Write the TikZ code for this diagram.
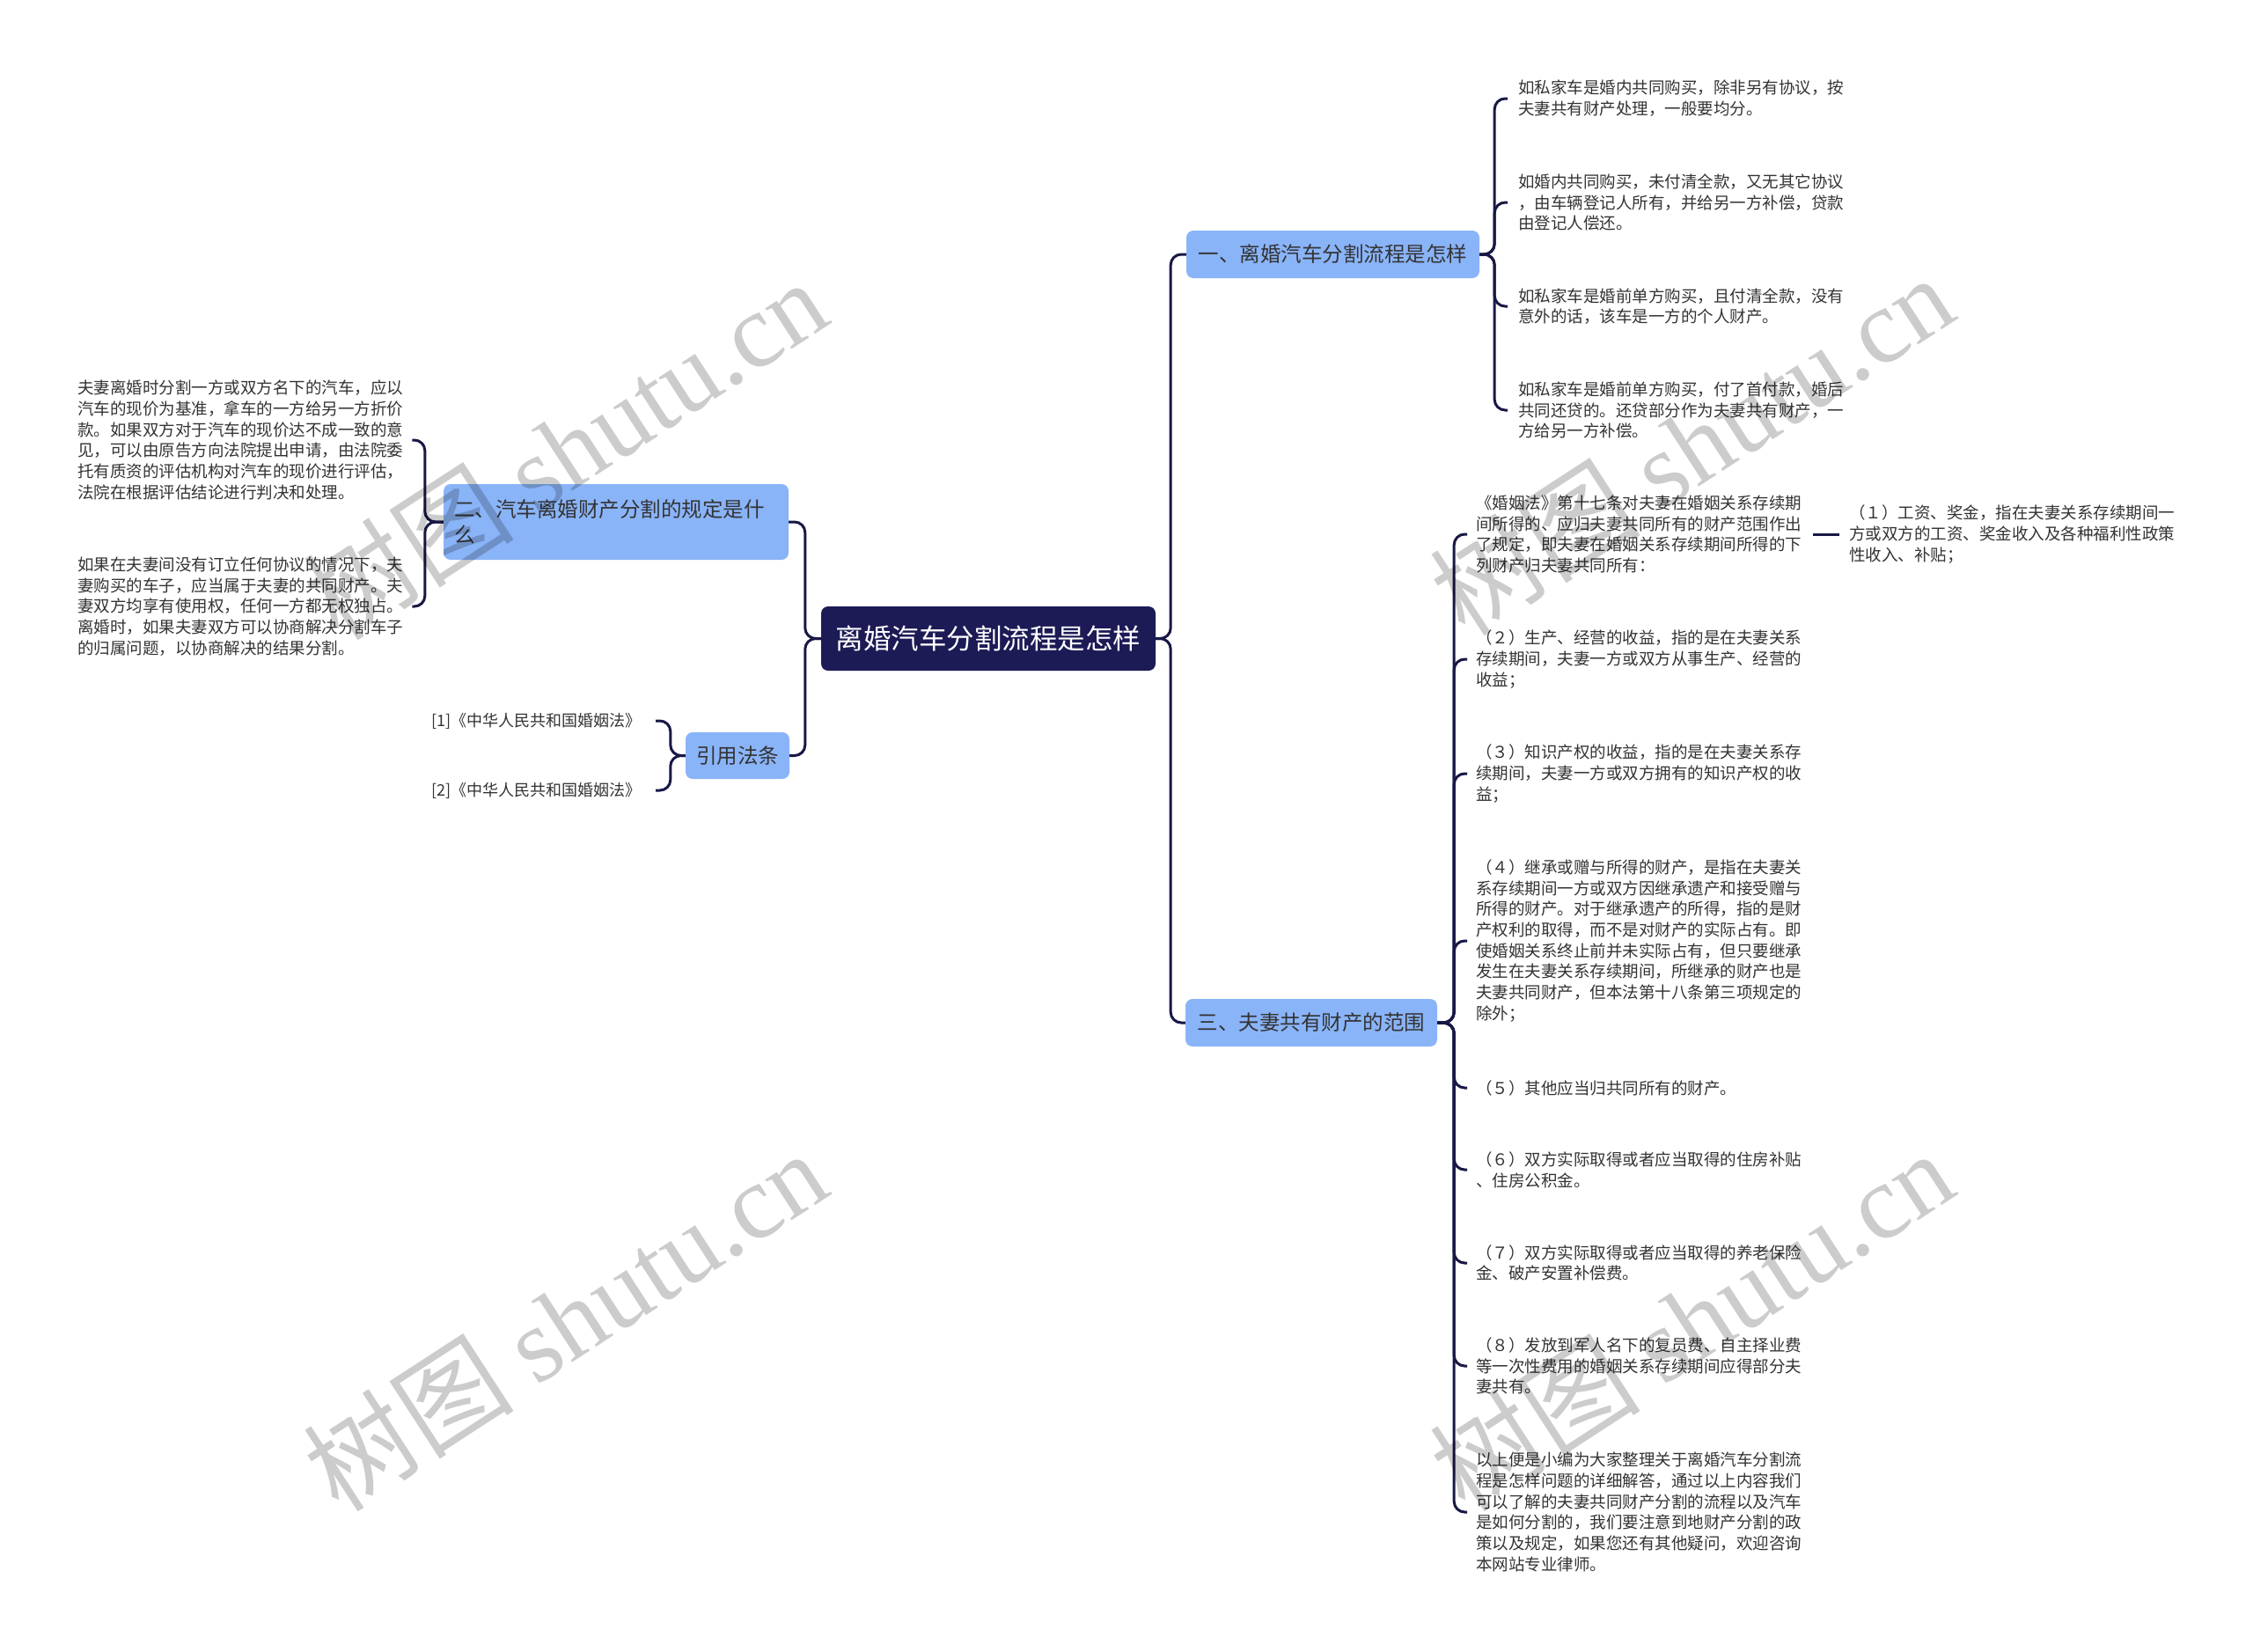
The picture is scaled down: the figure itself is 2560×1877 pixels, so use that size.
\documentclass[tikz,border=0pt]{standalone}
\usepackage{fontspec}
\setmainfont{Noto Sans CJK SC}
\newfontfamily\wmserif{Liberation Serif}
\definecolor{navy}{RGB}{28,27,86}
\definecolor{lineblue}{RGB}{24,24,70}
\definecolor{nodeblue}{RGB}{138,180,248}
\definecolor{txt}{RGB}{51,51,51}
\begin{document}
\begin{tikzpicture}[x=1pt,y=-1pt,
  conn/.style={draw=lineblue, line width=3pt, rounded corners=12pt},
  rootbox/.style={fill=navy, rounded corners=8pt, text=white, font=\fontsize{31.5}{36}\selectfont, inner sep=0pt},
  branch/.style={fill=nodeblue, rounded corners=8pt, text=txt, font=\fontsize{23.5}{29}\selectfont, inner sep=0pt},
  leaf/.style={text=txt, font=\fontsize{18.5}{23.7}\selectfont, align=left, inner sep=0pt, anchor=west},
  citeleaf/.style={text=txt, font=\fontsize{18}{23}\selectfont, inner sep=0pt, anchor=east},
  wm/.style={text=black, opacity=0.2, rotate=33, inner sep=0pt, font=\fontsize{120}{126}\selectfont}
]
\useasboundingbox (0,0) rectangle (2560,1877);
\fill[white] (0,0) rectangle (2560,1877);

% main nodes
\node[rootbox, minimum width=380pt, minimum height=73pt] (root) at (1123,725.5) {离婚汽车分割流程是怎样};
\node[branch, minimum width=333pt, minimum height=54pt] (b1) at (1514.5,289) {一、离婚汽车分割流程是怎样};
\node[branch, minimum width=286pt, minimum height=54pt] (b3) at (1490,1162) {三、夫妻共有财产的范围};
\node[branch, minimum width=392pt, minimum height=86pt, align=left, text width=368pt] (b2) at (700,593) {二、汽车离婚财产分割的规定是什\\么};
\node[branch, minimum width=118pt, minimum height=53pt] (cite) at (838,858.5) {引用法条};

% leaves of b1
\node[leaf] (a1) at (1725,112) {如私家车是婚内共同购买，除非另有协议，按\\夫妻共有财产处理，一般要均分。};
\node[leaf] (a2) at (1725,230) {如婚内共同购买，未付清全款，又无其它协议\\，由车辆登记人所有，并给另一方补偿，贷款\\由登记人偿还。};
\node[leaf] (a3) at (1725,348) {如私家车是婚前单方购买，且付清全款，没有\\意外的话，该车是一方的个人财产。};
\node[leaf] (a4) at (1725,466) {如私家车是婚前单方购买，付了首付款，婚后\\共同还贷的。还贷部分作为夫妻共有财产，一\\方给另一方补偿。};

% leaves of b3
\node[leaf] (c1) at (1677,607) {《婚姻法》第十七条对夫妻在婚姻关系存续期\\间所得的、应归夫妻共同所有的财产范围作出\\了规定，即夫妻在婚姻关系存续期间所得的下\\列财产归夫妻共同所有：};
\node[leaf] (c2) at (1677,749) {（２）生产、经营的收益，指的是在夫妻关系\\存续期间，夫妻一方或双方从事生产、经营的\\收益；};
\node[leaf] (c3) at (1677,879) {（３）知识产权的收益，指的是在夫妻关系存\\续期间，夫妻一方或双方拥有的知识产权的收\\益；};
\node[leaf] (c4) at (1677,1069) {（４）继承或赠与所得的财产，是指在夫妻关\\系存续期间一方或双方因继承遗产和接受赠与\\所得的财产。对于继承遗产的所得，指的是财\\产权利的取得，而不是对财产的实际占有。即\\使婚姻关系终止前并未实际占有，但只要继承\\发生在夫妻关系存续期间，所继承的财产也是\\夫妻共同财产，但本法第十八条第三项规定的\\除外；};
\node[leaf] (c5) at (1677,1236) {（５）其他应当归共同所有的财产。};
\node[leaf] (c6) at (1677,1329) {（６）双方实际取得或者应当取得的住房补贴\\、住房公积金。};
\node[leaf] (c7) at (1677,1435) {（７）双方实际取得或者应当取得的养老保险\\金、破产安置补偿费。};
\node[leaf] (c8) at (1677,1552) {（８）发放到军人名下的复员费、自主择业费\\等一次性费用的婚姻关系存续期间应得部分夫\\妻共有。};
\node[leaf] (c9) at (1677,1718) {以上便是小编为大家整理关于离婚汽车分割流\\程是怎样问题的详细解答，通过以上内容我们\\可以了解的夫妻共同财产分割的流程以及汽车\\是如何分割的，我们要注意到地财产分割的政\\策以及规定，如果您还有其他疑问，欢迎咨询\\本网站专业律师。};
\node[leaf] (d1) at (2101,607) {（１）工资、奖金，指在夫妻关系存续期间一\\方或双方的工资、奖金收入及各种福利性政策\\性收入、补贴；};

% leaves of b2
\node[leaf] (l1) at (88,500) {夫妻离婚时分割一方或双方名下的汽车，应以\\汽车的现价为基准，拿车的一方给另一方折价\\款。如果双方对于汽车的现价达不成一致的意\\见，可以由原告方向法院提出申请，由法院委\\托有质资的评估机构对汽车的现价进行评估，\\法院在根据评估结论进行判决和处理。};
\node[leaf] (l2) at (88,689) {如果在夫妻间没有订立任何协议的情况下，夫\\妻购买的车子，应当属于夫妻的共同财产。夫\\妻双方均享有使用权，任何一方都无权独占。\\离婚时，如果夫妻双方可以协商解决分割车子\\的归属问题，以协商解决的结果分割。};

% citations
\node[citeleaf] (r1) at (729,819) {[1]《中华人民共和国婚姻法》};
\node[citeleaf] (r2) at (729,898) {[2]《中华人民共和国婚姻法》};

% connectors: root
\draw[conn] (root.east) -- ++(17,0) |- (b1.west);
\draw[conn] (root.east) -- ++(17,0) |- (b3.west);
\draw[conn] (root.west) -- ++(-18,0) |- (b2.east);
\draw[conn] (root.west) -- ++(-18,0) |- (cite.east);

% b1 children
\foreach \c in {a1,a2,a3,a4}{
  \draw[conn] (b1.east) -- ++(17,0) |- ([xshift=-12pt]\c.west);
}
% b3 children
\foreach \c in {c1,c2,c3,c4,c5,c6,c7,c8,c9}{
  \draw[conn] (b3.east) -- ++(19,0) |- ([xshift=-10pt]\c.west);
}
\draw[conn] ([xshift=13pt]c1.east) -- ([xshift=-11pt]d1.west);
% b2 children
\draw[conn] (b2.west) -- ++(-21,0) |- ([xshift=10pt]l1.east);
\draw[conn] (b2.west) -- ++(-21,0) |- ([xshift=10pt]l2.east);
% cite children
\draw[conn] (cite.west) -- ++(-17,0) |- ([xshift=16pt]r1.east);
\draw[conn] (cite.west) -- ++(-17,0) |- ([xshift=16pt]r2.east);

% watermarks
\node[wm] (w1) at (642,510) {树图 {\wmserif shutu.cn}};
\node[wm] (w2) at (1922,505) {树图 {\wmserif shutu.cn}};
\node[wm] (w3) at (642,1500) {树图 {\wmserif shutu.cn}};
\node[wm] (w4) at (1922,1500) {树图 {\wmserif shutu.cn}};
\end{tikzpicture}
\end{document}
